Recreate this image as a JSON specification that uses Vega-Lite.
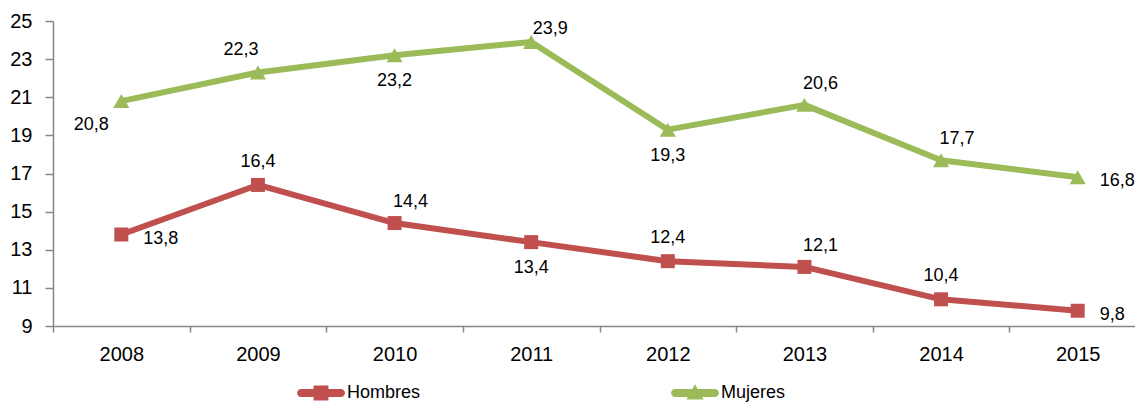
{
  "$schema": "https://vega.github.io/schema/vega-lite/v6.json",
  "width": 1082,
  "height": 305,
  "autosize": {"type": "none"},
  "padding": {"left": 53, "top": 21, "right": 0, "bottom": 82},
  "background": "white",
  "config": {
    "view": {"stroke": null},
    "font": "Liberation Sans",
    "locale": {"number": {"decimal": ",", "thousands": ".", "grouping": [3], "currency": ["", " €"]}},
    "text": {"font": "Liberation Sans", "fontSize": 18, "color": "black", "baseline": "middle"}
  },
  "data": {
    "values": [
      {"anio": "2008", "sexo": "Hombres", "valor": 13.8},
      {"anio": "2009", "sexo": "Hombres", "valor": 16.4},
      {"anio": "2010", "sexo": "Hombres", "valor": 14.4},
      {"anio": "2011", "sexo": "Hombres", "valor": 13.4},
      {"anio": "2012", "sexo": "Hombres", "valor": 12.4},
      {"anio": "2013", "sexo": "Hombres", "valor": 12.1},
      {"anio": "2014", "sexo": "Hombres", "valor": 10.4},
      {"anio": "2015", "sexo": "Hombres", "valor": 9.8},
      {"anio": "2008", "sexo": "Mujeres", "valor": 20.8},
      {"anio": "2009", "sexo": "Mujeres", "valor": 22.3},
      {"anio": "2010", "sexo": "Mujeres", "valor": 23.2},
      {"anio": "2011", "sexo": "Mujeres", "valor": 23.9},
      {"anio": "2012", "sexo": "Mujeres", "valor": 19.3},
      {"anio": "2013", "sexo": "Mujeres", "valor": 20.6},
      {"anio": "2014", "sexo": "Mujeres", "valor": 17.7},
      {"anio": "2015", "sexo": "Mujeres", "valor": 16.8}
    ]
  },
  "encoding": {
    "x": {
      "field": "anio", "type": "ordinal",
      "scale": {"type": "band", "paddingInner": 0, "paddingOuter": 0, "range": [0, 1093]},
      "axis": {
        "title": null, "labelAngle": 0, "tickBand": "extent", "tickSize": 6,
        "labelPadding": 12, "labelFontSize": 20, "labelColor": "black",
        "labelFont": "Liberation Sans",
        "domainColor": "#868686", "tickColor": "#868686", "domainWidth": 1.5, "tickWidth": 1.5, "grid": false
      }
    },
    "y": {
      "field": "valor", "type": "quantitative",
      "scale": {"domain": [9, 25], "nice": false, "zero": false},
      "axis": {
        "title": null, "values": [9, 11, 13, 15, 17, 19, 21, 23, 25], "format": "d",
        "tickSize": 8, "labelPadding": 13, "labelFontSize": 20, "labelColor": "black",
        "labelFont": "Liberation Sans",
        "domainColor": "#868686", "tickColor": "#868686", "domainWidth": 1.5, "tickWidth": 1.5, "grid": false
      }
    },
    "color": {
      "field": "sexo", "type": "nominal",
      "scale": {"domain": ["Hombres", "Mujeres"], "range": ["#C0504D", "#9BBB59"]},
      "legend": null
    }
  },
  "layer": [
    {
      "mark": {"type": "point", "filled": true, "opacity": 0},
      "encoding": {
        "color": {
          "field": "sexo", "type": "nominal",
          "scale": {"domain": ["Hombres", "Mujeres"], "range": ["#C0504D", "#9BBB59"]},
          "legend": {
            "orient": "none", "legendX": 244, "legendY": 348, "direction": "horizontal",
            "columns": 2, "columnPadding": 250, "title": null, "symbolSize": 2304,
            "labelFontSize": 18, "labelFont": "Liberation Sans", "labelColor": "black",
            "labelOffset": 2, "symbolStrokeWidth": 0, "symbolOpacity": 1
          }
        },
        "shape": {
          "field": "sexo", "type": "nominal",
          "scale": {
            "domain": ["Hombres", "Mujeres"],
            "range": [
              "M-0.83,-0.167H0.83A0.167,0.167 0 0 1 0.83,0.167H-0.83A0.167,0.167 0 0 1 -0.83,-0.167Z M-0.31,-0.31H0.31V0.31H-0.31Z",
              "M-0.83,-0.167H0.83A0.167,0.167 0 0 1 0.83,0.167H-0.83A0.167,0.167 0 0 1 -0.83,-0.167Z M0,-0.36L0.36,0.27H-0.36Z"
            ]
          },
          "legend": {
            "orient": "none", "legendX": 244, "legendY": 348, "direction": "horizontal",
            "columns": 2, "columnPadding": 250, "title": null, "symbolSize": 2304,
            "labelFontSize": 18, "labelFont": "Liberation Sans", "labelColor": "black",
            "labelOffset": 2, "symbolStrokeWidth": 0, "symbolOpacity": 1
          }
        }
      }
    },
    {
      "mark": {"type": "line", "strokeWidth": 6, "strokeJoin": "round", "strokeCap": "round"}
    },
    {
      "transform": [{"filter": "datum.sexo == 'Hombres'"}],
      "mark": {"type": "point", "shape": "square", "filled": true, "opacity": 1, "size": 196}
    },
    {
      "transform": [{"filter": "datum.sexo == 'Mujeres'"}],
      "mark": {"type": "point", "shape": "triangle-up", "filled": true, "opacity": 1, "size": 260}
    },
    {
      "transform": [{"filter": "indexof(['H2009','H2012','H2014'], slice(datum.sexo,0,1) + datum.anio) >= 0"}],
      "mark": {"type": "text", "dx": 0, "dy": -23},
      "encoding": {"text": {"field": "valor", "type": "quantitative", "format": ".1f"}, "color": {"value": "black"}}
    },
    {
      "transform": [{"filter": "indexof(['H2010','H2013','M2013','M2014'], slice(datum.sexo,0,1) + datum.anio) >= 0"}],
      "mark": {"type": "text", "dx": 16, "dy": -21},
      "encoding": {"text": {"field": "valor", "type": "quantitative", "format": ".1f"}, "color": {"value": "black"}}
    },
    {
      "transform": [{"filter": "indexof(['M2011'], slice(datum.sexo,0,1) + datum.anio) >= 0"}],
      "mark": {"type": "text", "dx": 19, "dy": -13},
      "encoding": {"text": {"field": "valor", "type": "quantitative", "format": ".1f"}, "color": {"value": "black"}}
    },
    {
      "transform": [{"filter": "indexof(['M2009'], slice(datum.sexo,0,1) + datum.anio) >= 0"}],
      "mark": {"type": "text", "dx": -17, "dy": -22},
      "encoding": {"text": {"field": "valor", "type": "quantitative", "format": ".1f"}, "color": {"value": "black"}}
    },
    {
      "transform": [{"filter": "indexof(['M2010','M2012','H2011'], slice(datum.sexo,0,1) + datum.anio) >= 0"}],
      "mark": {"type": "text", "dx": 0, "dy": 26},
      "encoding": {"text": {"field": "valor", "type": "quantitative", "format": ".1f"}, "color": {"value": "black"}}
    },
    {
      "transform": [{"filter": "indexof(['M2008'], slice(datum.sexo,0,1) + datum.anio) >= 0"}],
      "mark": {"type": "text", "dx": -30, "dy": 24},
      "encoding": {"text": {"field": "valor", "type": "quantitative", "format": ".1f"}, "color": {"value": "black"}}
    },
    {
      "transform": [{"filter": "indexof(['M2015','H2015','H2008'], slice(datum.sexo,0,1) + datum.anio) >= 0"}],
      "mark": {"type": "text", "align": "left", "dx": 22, "dy": 4},
      "encoding": {"text": {"field": "valor", "type": "quantitative", "format": ".1f"}, "color": {"value": "black"}}
    }
  ]
}
